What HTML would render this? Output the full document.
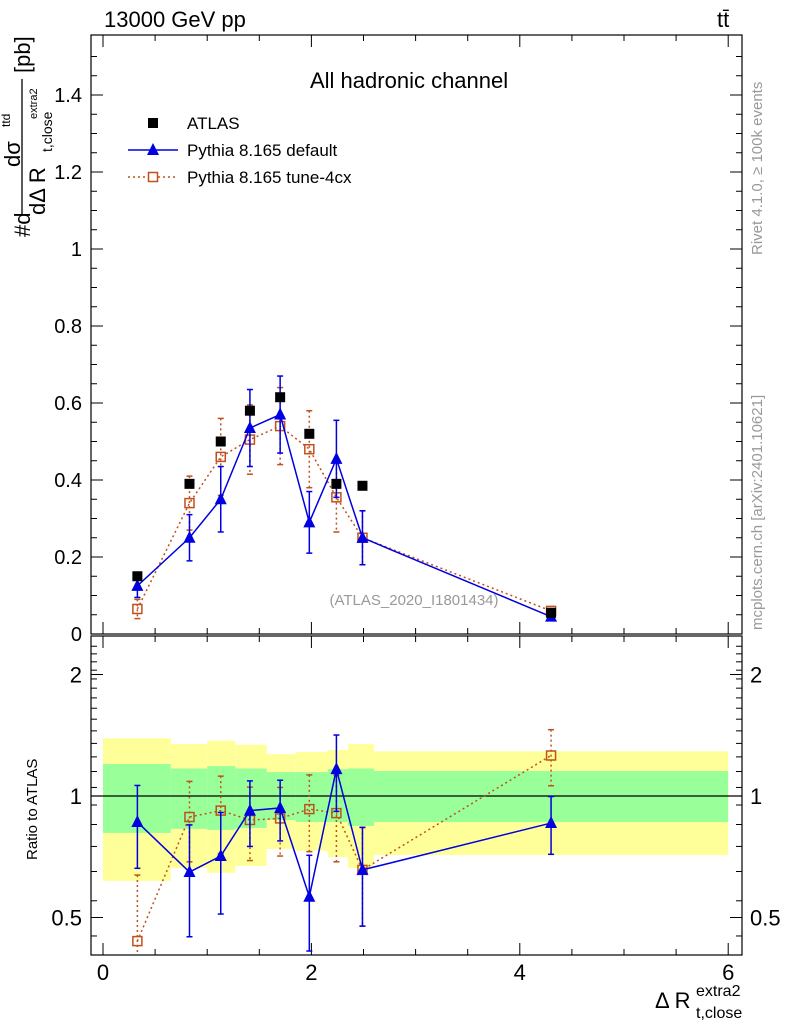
<!DOCTYPE html>
<html><head><meta charset="utf-8"><style>
body{margin:0;background:#fff;}
svg{display:block;font-family:"Liberation Sans",sans-serif;}
</style></head><body>
<svg id="c" width="786" height="1024"></svg>
<script>
const xs=[0.33,0.83,1.13,1.41,1.7,1.98,2.24,2.49,4.3];
const atlas=[0.15,0.39,0.50,0.58,0.615,0.52,0.39,0.385,0.055];
const pyDef=[0.125,0.25,0.35,0.535,0.57,0.29,0.455,0.25,0.045];
const pyDefErr=[0.03,0.06,0.085,0.1,0.1,0.08,0.1,0.07,0.006];
const pyTune=[0.065,0.34,0.46,0.505,0.54,0.48,0.355,0.25,0.06];
const pyTuneErr=[0.025,0.07,0.1,0.09,0.1,0.1,0.09,0.07,0.006];
const rDef=[0.862,0.648,0.71,0.92,0.934,0.563,1.166,0.656,0.857];
const rDefErr=[0.2,0.2,0.2,0.17,0.16,0.15,0.25,0.18,0.14];
const rTune=[0.437,0.887,0.92,0.872,0.88,0.928,0.907,0.656,1.26];
const rTuneErr=[0.2,0.2,0.2,0.18,0.17,0.2,0.22,0.18,0.2];
const binEdges=[0,0.65,1.0,1.27,1.57,1.85,2.16,2.35,2.6,6];
const yelHi=[1.39,1.345,1.37,1.34,1.27,1.285,1.30,1.345,1.29];
const yelLo=[0.616,0.663,0.645,0.671,0.739,0.731,0.706,0.663,0.714];
const grnHi=[1.20,1.17,1.186,1.17,1.146,1.146,1.166,1.17,1.153];
const grnLo=[0.81,0.829,0.824,0.833,0.872,0.862,0.862,0.843,0.862];
const yTicks=[0,0.2,0.4,0.6,0.8,1,1.2,1.4];
const yTickLabels=["0","0.2","0.4","0.6","0.8","1","1.2","1.4"];
const xTicks=[0,2,4,6];
const rTicks=[0.5,1,2];

const NS="http://www.w3.org/2000/svg";
const svg=document.getElementById('c');
function el(t,a,p){const e=document.createElementNS(NS,t);for(const k in a)e.setAttribute(k,a[k]);(p||svg).appendChild(e);return e;}
function tx(s,a,p){const e=el('text',a,p);e.textContent=s;return e;}
const L=91,R=742,T1=35,B1=634,T2=636,B2=955;
const X=v=>103+v*104.2;
const Y=v=>634-v*385;
const YR=v=>796-121.5*Math.log2(v);

const bands=el('g',{});


for(let i=0;i<yelHi.length;i++){
  el('rect',{x:X(binEdges[i]),y:YR(yelHi[i]),width:X(binEdges[i+1])-X(binEdges[i]),height:YR(yelLo[i])-YR(yelHi[i]),fill:'#ffff99'},bands);
}
for(let i=0;i<grnHi.length;i++){
  el('rect',{x:X(binEdges[i]),y:YR(grnHi[i]),width:X(binEdges[i+1])-X(binEdges[i]),height:YR(grnLo[i])-YR(grnHi[i]),fill:'#99ff99'},bands);
}
el('line',{x1:L,x2:R,y1:YR(1),y2:YR(1),stroke:'#000','stroke-width':1.2});

const f1=el('rect',{x:L,y:T1,width:R-L,height:B1-T1,fill:'none',stroke:'#000','stroke-width':1.2});

const f2=el('rect',{x:L,y:T2,width:R-L,height:B2-T2,fill:'none',stroke:'#000','stroke-width':1.2});


for(let v=0;v<=6.01;v+=0.5){
  const maj=Math.abs(v-Math.round(v/2)*2)<1e-6;const len=maj?12:6;
  for(const [t,b] of [[T1,B1],[T2,B2]]){
    el('line',{x1:X(v),x2:X(v),y1:b,y2:b-len,stroke:'#000'});
    el('line',{x1:X(v),x2:X(v),y1:t,y2:t+len,stroke:'#000'});
  }
}
xTicks.forEach(v=>{const t=tx(String(v),{x:X(v),y:980,'font-size':22,'text-anchor':'middle'});
});
for(let v=0;v<=1.55;v+=0.05){
  const maj=Math.abs(v/0.2-Math.round(v/0.2))<1e-6;const len=maj?12:6;
  el('line',{x1:L,x2:L+len,y1:Y(v),y2:Y(v),stroke:'#000'});
  el('line',{x1:R,x2:R-len,y1:Y(v),y2:Y(v),stroke:'#000'});
}
yTicks.forEach((v,i)=>{const t=tx(yTickLabels[i],{x:82,y:Y(v)+7,'font-size':20,'text-anchor':'end'});
});
for(let v=0.45;v<=2.4;v+=0.1){
  if(YR(v)<T2||YR(v)>B2)continue;
  el('line',{x1:L,x2:L+6,y1:YR(v),y2:YR(v),stroke:'#000'});
  el('line',{x1:R,x2:R-6,y1:YR(v),y2:YR(v),stroke:'#000'});
}
rTicks.forEach(v=>{
  el('line',{x1:L,x2:L+12,y1:YR(v),y2:YR(v),stroke:'#000'});
  el('line',{x1:R,x2:R-12,y1:YR(v),y2:YR(v),stroke:'#000'});
  const t1=tx(String(v),{x:82,y:YR(v)+8,'font-size':22,'text-anchor':'end'});
  
  const t2=tx(String(v),{x:750,y:YR(v)+8,'font-size':22});
  
});

function series(vals,errs,Yf,color,dash,marker,name){
  const g=el('g',{});
  const isR=Yf===YR;
  const pts=xs.map((x,i)=>X(x)+','+Yf(vals[i])).join(' ');
  el('polyline',{points:pts,fill:'none',stroke:color,'stroke-width':1.5,'stroke-dasharray':dash},g);
  xs.forEach((x,i)=>{
    if(errs){
      const hi=vals[i]+errs[i],lo=Math.max(vals[i]-errs[i],0.01);
      const yh=Math.max(Yf(hi),isR?T2:T1),yl=Math.min(Yf(lo),isR?B2:B1);
      el('line',{x1:X(x),x2:X(x),y1:yh,y2:yl,stroke:color,'stroke-width':1.5,'stroke-dasharray':dash},g);
      if(Yf(hi)>=(isR?T2:T1))el('line',{x1:X(x)-3,x2:X(x)+3,y1:yh,y2:yh,stroke:color,'stroke-width':1.5},g);
      if(Yf(lo)<=(isR?B2:B1))el('line',{x1:X(x)-3,x2:X(x)+3,y1:yl,y2:yl,stroke:color,'stroke-width':1.5},g);
    }
    const px=X(x),py=Yf(vals[i]);
    if(marker==='tri')el('polygon',{points:`${px},${py-7} ${px-6},${py+5} ${px+6},${py+5}`,fill:color},g);
    else if(marker==='sq')el('rect',{x:px-4.5,y:py-4.5,width:9,height:9,fill:'none',stroke:color,'stroke-width':1.5},g);
  });
}
series(pyTune,pyTuneErr,Y,'#c0501e','2,3','sq','series-tune-4cx');
series(pyDef,pyDefErr,Y,'#0000e0','','tri','series-default');
const ga=el('g',{});
xs.forEach((x,i)=>el('rect',{x:X(x)-5,y:Y(atlas[i])-5,width:10,height:10,fill:'#000'},ga));
series(rTune,rTuneErr,YR,'#c0501e','2,3','sq','ratio-tune-4cx');
series(rDef,rDefErr,YR,'#0000e0','','tri','ratio-default');

function T(s,a,name){const t=tx(s,a);return t;}
T('13000 GeV pp',{x:104,y:27,'font-size':22},'energy-label');
T('tt̄',{x:717,y:27,'font-size':22},'process-label');
T('All hadronic channel',{x:310,y:88,'font-size':22},'panel-title');
T('(ATLAS_2020_I1801434)',{x:414,y:605,'font-size':15,fill:'#999','text-anchor':'middle'},'analysis-id');
el('rect',{x:148,y:118,width:10,height:10,fill:'#000'});
T('ATLAS',{x:187,y:129,'font-size':17},'legend-atlas');
el('line',{x1:128,x2:178,y1:150,y2:150,stroke:'#0000e0','stroke-width':1.5});
el('polygon',{points:'153,143 147,155 159,155',fill:'#0000e0'});
T('Pythia 8.165 default',{x:187,y:156,'font-size':17},'legend-default');
el('line',{x1:128,x2:178,y1:177,y2:177,stroke:'#c0501e','stroke-width':1.5,'stroke-dasharray':'2,3'});
el('rect',{x:148.5,y:172.5,width:9,height:9,fill:'#fff',stroke:'#c0501e','stroke-width':1.5});
T('Pythia 8.165 tune-4cx',{x:187,y:183,'font-size':17},'legend-tune');
const yt=el('g',{transform:'translate(0,237) rotate(-90)'});

tx('#d',{x:0,y:30,'font-size':22},yt);
el('line',{x1:23,x2:158,y1:22,y2:22,stroke:'#000','stroke-width':1.3},yt);
tx('dσ',{x:70,y:20,'font-size':22},yt);
tx('ttd',{x:110,y:10,'font-size':12},yt);
tx('dΔ R',{x:22,y:45,'font-size':22},yt);
tx('t,close',{x:85,y:52,'font-size':14},yt);
tx('extra2',{x:118,y:37,'font-size':11},yt);
tx('[pb]',{x:164,y:30,'font-size':22},yt);
T('Ratio to ATLAS',{x:0,y:0,'font-size':15,transform:'translate(37,860) rotate(-90)'},'ratio-y-title');
T('Δ R',{x:655,y:1008,'font-size':22},'x-axis-title');
T('extra2',{x:696,y:996,'font-size':16},'x-axis-title-sup');
T('t,close',{x:696,y:1018,'font-size':16},'x-axis-title-sub');
T('Rivet 4.1.0, ≥ 100k events',{x:0,y:0,'font-size':15,fill:'#999',transform:'translate(762,255) rotate(-90)'},'rivet-label');
T('mcplots.cern.ch [arXiv:2401.10621]',{x:0,y:0,'font-size':15,fill:'#999',transform:'translate(762,630) rotate(-90)'},'mcplots-label');
</script>
</body></html>
